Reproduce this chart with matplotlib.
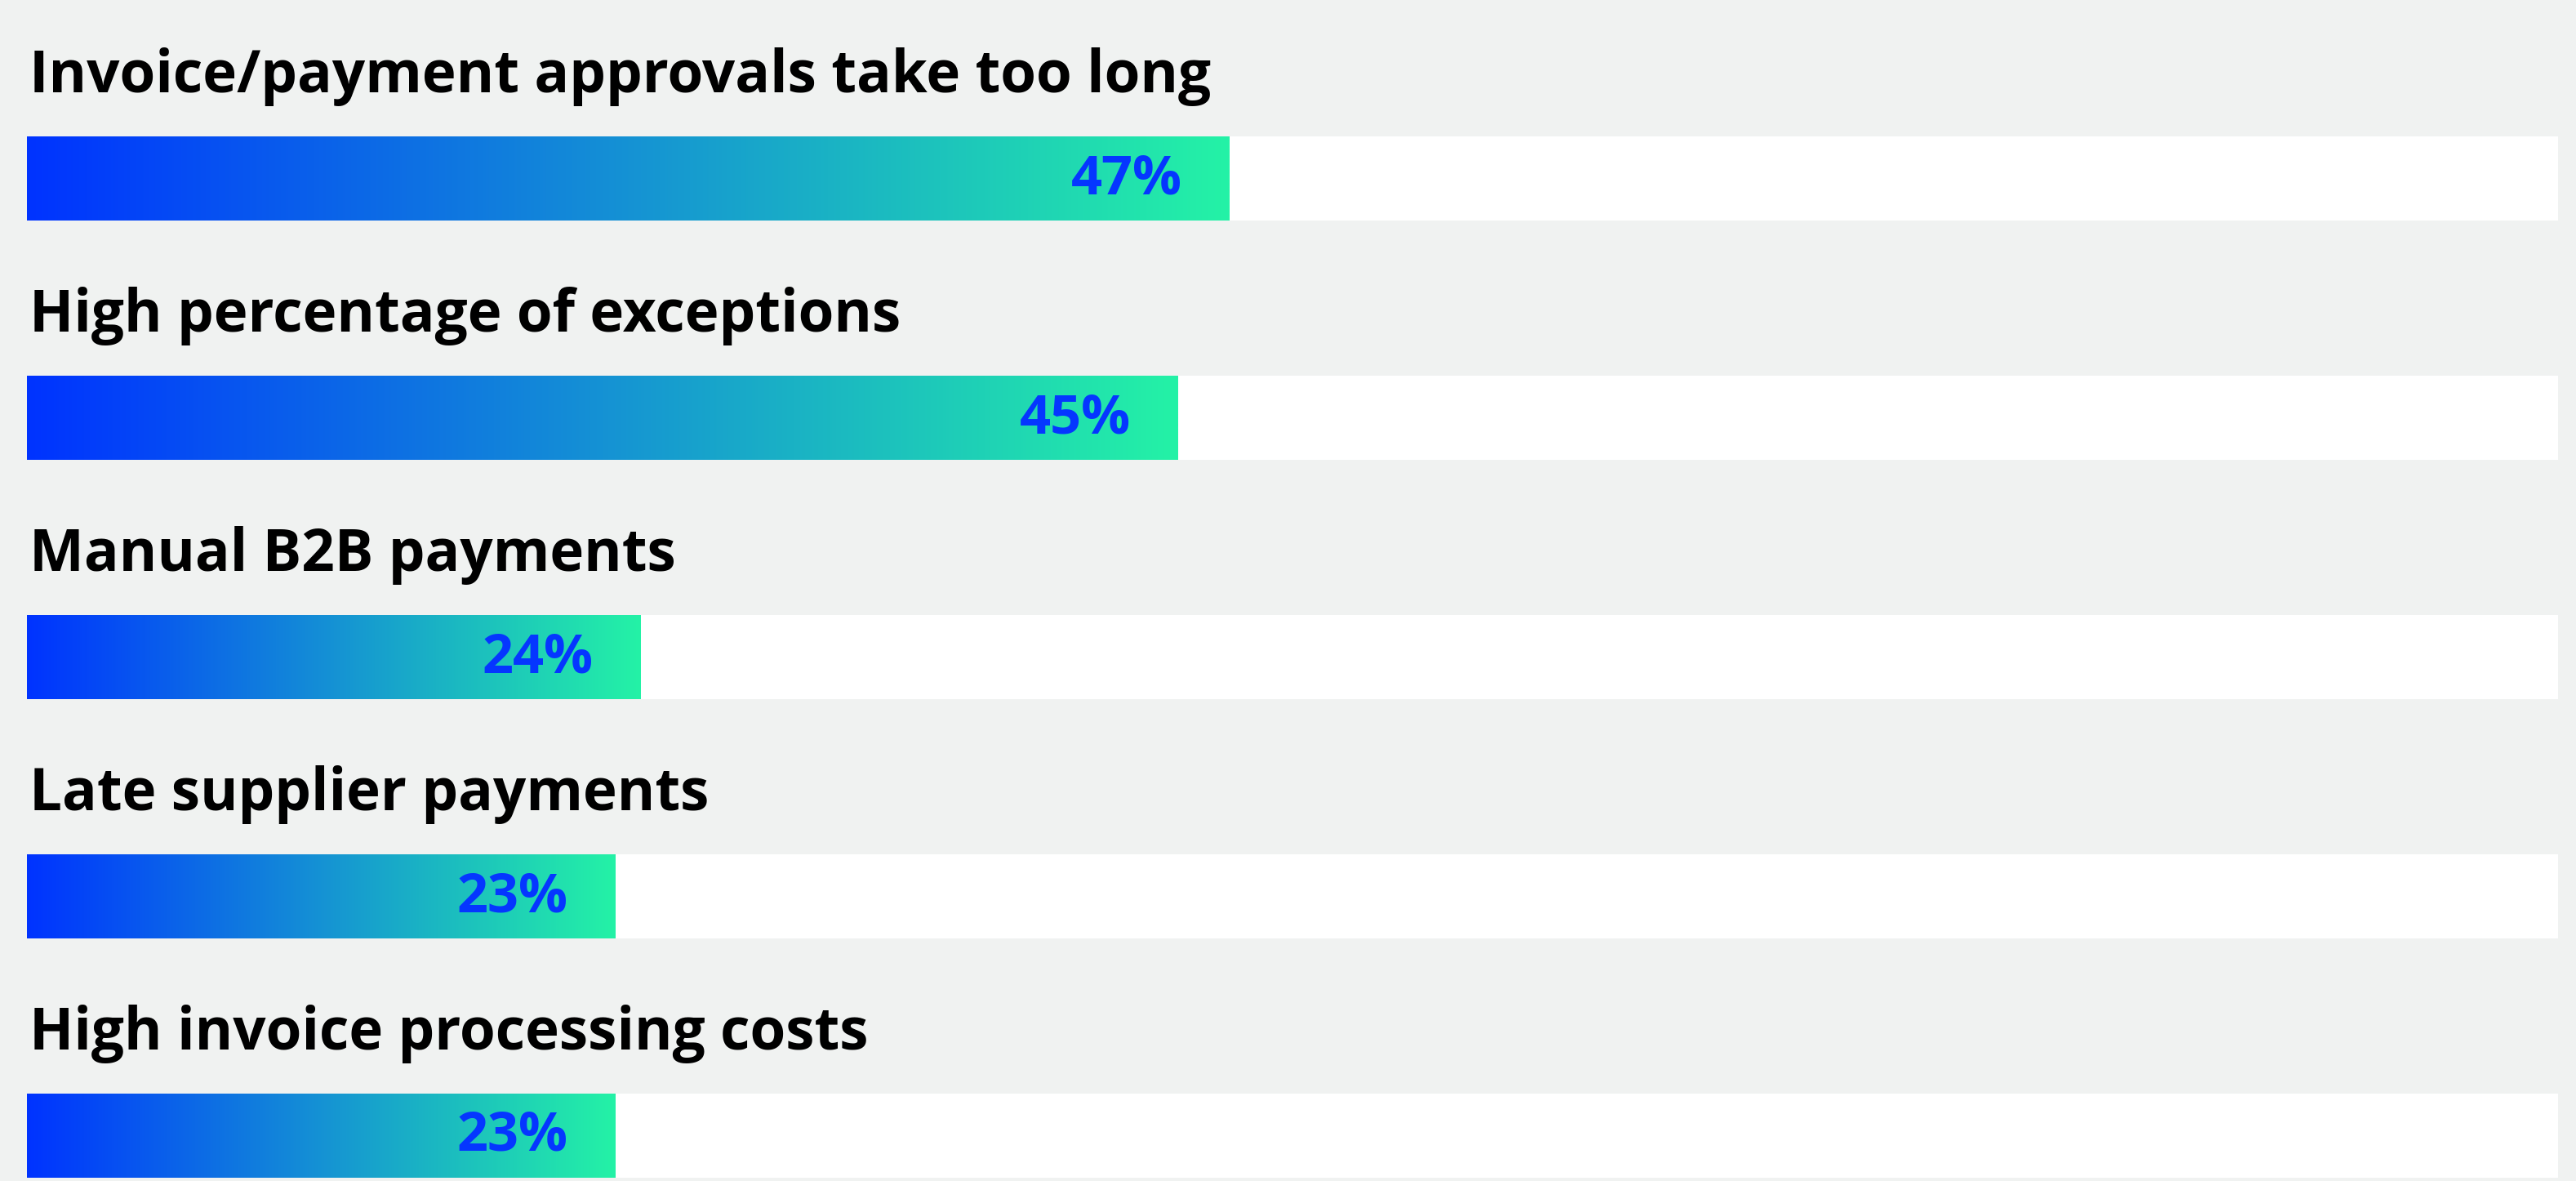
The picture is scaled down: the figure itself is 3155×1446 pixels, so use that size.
import numpy as np
import matplotlib
matplotlib.use("Agg")
import matplotlib.pyplot as plt
from matplotlib.colors import LinearSegmentedColormap

# data
categories = [
    "Invoice/payment approvals take too long",
    "High percentage of exceptions",
    "Manual B2B payments",
    "Late supplier payments",
    "High invoice processing costs",
]
values = [47, 45, 24, 23, 23]

BG = "#F0F2F1"
TEXT_BLUE = "#0536FF"
grad = LinearSegmentedColormap.from_list("bluegreen", ["#0033FF", "#1592D4", "#24F2A6"])

W, H, DPI = 3155, 1446, 100
fig = plt.figure(figsize=(W / DPI, H / DPI), dpi=DPI, facecolor=BG)
ax = fig.add_axes([0, 0, 1, 1])
ax.set_facecolor(BG)

# x: 0 -> 33px, ~31.33 px per percent ; y: rows 293px apart, first center at 218px
px_per_unit = 31.33
track_end = (3133 - 33) / px_per_unit
row_px = 293.0
bar_h = 103 / row_px
ramp = np.linspace(0, 1, 512).reshape(1, -1)

for i, (lab, v) in enumerate(zip(categories, values)):
    # white track
    ax.barh(i, track_end, height=bar_h, left=0, color="white", zorder=1)
    # gradient bar
    ax.imshow(ramp, cmap=grad, aspect="auto", interpolation="bicubic",
              extent=(0, v, i + bar_h / 2, i - bar_h / 2), zorder=2)
    ax.text(v - 58 / px_per_unit, i + 0.005, f"{v}%", ha="right", va="center",
            color=TEXT_BLUE, fontsize=48, fontweight="bold", family="Open Sans", zorder=3)
    ax.text(0.1, i - 0.36, lab, ha="left", va="baseline", color="black",
            fontsize=51, fontweight="bold", family="Open Sans", zorder=3)

ax.set_xlim(-33 / px_per_unit, (W - 33) / px_per_unit)
ax.set_ylim(4 + (H - 1390) / row_px, -218.5 / row_px)
ax.axis("off")

fig.savefig("out.png", dpi=DPI, facecolor=BG)
